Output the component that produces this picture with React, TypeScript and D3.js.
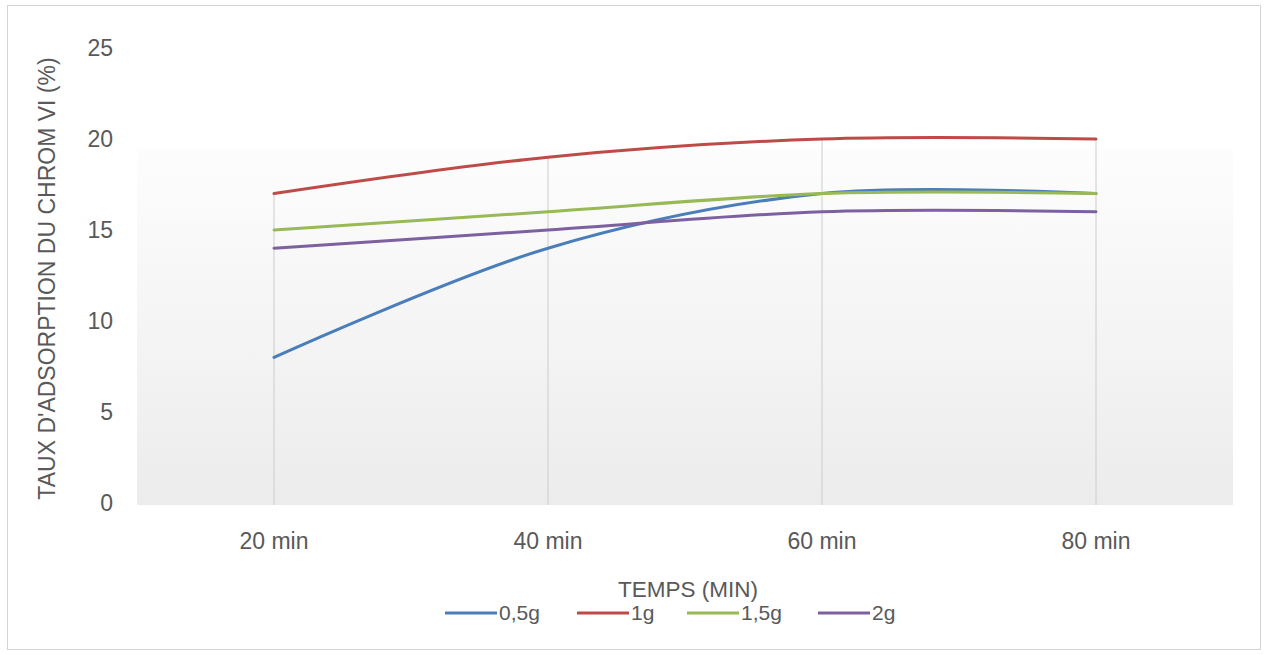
import React, { useEffect, useRef } from 'react';
import * as d3 from 'd3';

// Data
const categories = ['20 min', '40 min', '60 min', '80 min'];
const seriesNames = ['0,5g', '1g', '1,5g', '2g'];
const values05g = [8, 14, 17, 17];
const values1g = [17, 19, 20, 20];
const values15g = [15, 16, 17, 17];
const values2g = [14, 15, 16, 16];
const yTicks = [0, 5, 10, 15, 20, 25];
const colors = ['#4a7ebb', '#be4b48', '#98b954', '#7d60a0'];

const xTitle = 'TEMPS (MIN)';
const yTitle = "TAUX D'ADSORPTION DU CHROM VI (%)";

const App: React.FC = () => {
  const svgRef = useRef<SVGSVGElement>(null);

  useEffect(() => {
    const svg = d3.select(svgRef.current);
    svg.selectAll('*').remove();

    const width = 1264;
    const height = 655;
    const plot = { left: 137, right: 1233, top: 48, bottom: 503 };
    const font = '"Liberation Sans", Arial, sans-serif';
    const textColor = '#595959';

    const series = [values05g, values1g, values15g, values2g].map((vals, i) => ({
      name: seriesNames[i],
      color: colors[i],
      values: vals
    }));

    const x = d3.scaleBand()
      .domain(categories)
      .range([plot.left, plot.right]);
    const xc = (c: string) => (x(c) ?? 0) + x.bandwidth() / 2;

    const y = d3.scaleLinear()
      .domain([0, 25])
      .range([plot.bottom, plot.top]);

    svg.attr('width', width).attr('height', height);

    // Outer frame
    svg.append('rect')
      .attr('x', 7.5)
      .attr('y', 5.5)
      .attr('width', 1253)
      .attr('height', 644)
      .attr('fill', '#ffffff')
      .attr('stroke', '#d4d4d4');

    // Plot area gradient
    const defs = svg.append('defs');
    const grad = defs.append('linearGradient')
      .attr('id', 'plotGrad')
      .attr('x1', 0).attr('y1', 0).attr('x2', 0).attr('y2', 1);
    grad.append('stop').attr('offset', '0%').attr('stop-color', '#fdfdfd');
    grad.append('stop').attr('offset', '100%').attr('stop-color', '#ececec');

    svg.append('rect')
      .attr('x', plot.left)
      .attr('y', y(19.5))
      .attr('width', plot.right - plot.left)
      .attr('height', plot.bottom + 2 - y(19.5))
      .attr('fill', 'url(#plotGrad)');

    // Drop lines from the highest point down to the axis
    svg.append('g')
      .selectAll('line')
      .data(categories)
      .enter()
      .append('line')
      .attr('x1', d => xc(d))
      .attr('x2', d => xc(d))
      .attr('y1', (d, i) => y(d3.max(series, s => s.values[i]) ?? 0))
      .attr('y2', plot.bottom + 2)
      .attr('stroke', '#cccccc')
      .attr('stroke-width', 1);

    // Y tick labels
    svg.append('g')
      .selectAll('text')
      .data(yTicks)
      .enter()
      .append('text')
      .attr('x', 113)
      .attr('y', d => y(d))
      .attr('dy', '0.35em')
      .attr('text-anchor', 'end')
      .style('font-family', font)
      .style('font-size', '23px')
      .style('fill', textColor)
      .text(d => d);

    // X tick labels
    svg.append('g')
      .selectAll('text')
      .data(categories)
      .enter()
      .append('text')
      .attr('x', d => xc(d))
      .attr('y', 541)
      .attr('dy', '0.35em')
      .attr('text-anchor', 'middle')
      .style('font-family', font)
      .style('font-size', '23px')
      .style('fill', textColor)
      .text(d => d);

    // Lines (smoothed like the source)
    const line = d3.line<number>()
      .x((d, i) => xc(categories[i]))
      .y(d => y(d))
      .curve(d3.curveCatmullRom.alpha(0.5));

    svg.append('g')
      .selectAll('path')
      .data(series)
      .enter()
      .append('path')
      .attr('d', d => line(d.values))
      .attr('fill', 'none')
      .attr('stroke', d => d.color)
      .attr('stroke-width', 3)
      .attr('stroke-linecap', 'round');

    // Axis titles
    svg.append('text')
      .attr('transform', `translate(47,${(plot.top + plot.bottom) / 2 + 3}) rotate(-90)`)
      .attr('dy', '0.35em')
      .attr('text-anchor', 'middle')
      .style('font-family', font)
      .style('font-size', '23px')
      .style('fill', textColor)
      .text(yTitle);

    svg.append('text')
      .attr('x', (plot.left + plot.right) / 2 + 3)
      .attr('y', 589)
      .attr('dy', '0.35em')
      .attr('text-anchor', 'middle')
      .style('font-family', font)
      .style('font-size', '22.5px')
      .style('fill', textColor)
      .text(xTitle);

    // Legend
    const legendX = [445, 577, 687, 818];
    const legend = svg.append('g')
      .selectAll('g')
      .data(series)
      .enter()
      .append('g')
      .attr('transform', (d, i) => `translate(${legendX[i]},613)`);

    legend.append('line')
      .attr('x1', 0)
      .attr('x2', 52)
      .attr('stroke', d => d.color)
      .attr('stroke-width', 3);

    legend.append('text')
      .attr('x', 54)
      .attr('dy', '0.35em')
      .style('font-family', font)
      .style('font-size', '21px')
      .style('fill', textColor)
      .text(d => d.name);
  }, []);

  return (
    <svg ref={svgRef} style={{ position: 'absolute', left: 0, top: 0 }}></svg>
  );
};

export default App;
